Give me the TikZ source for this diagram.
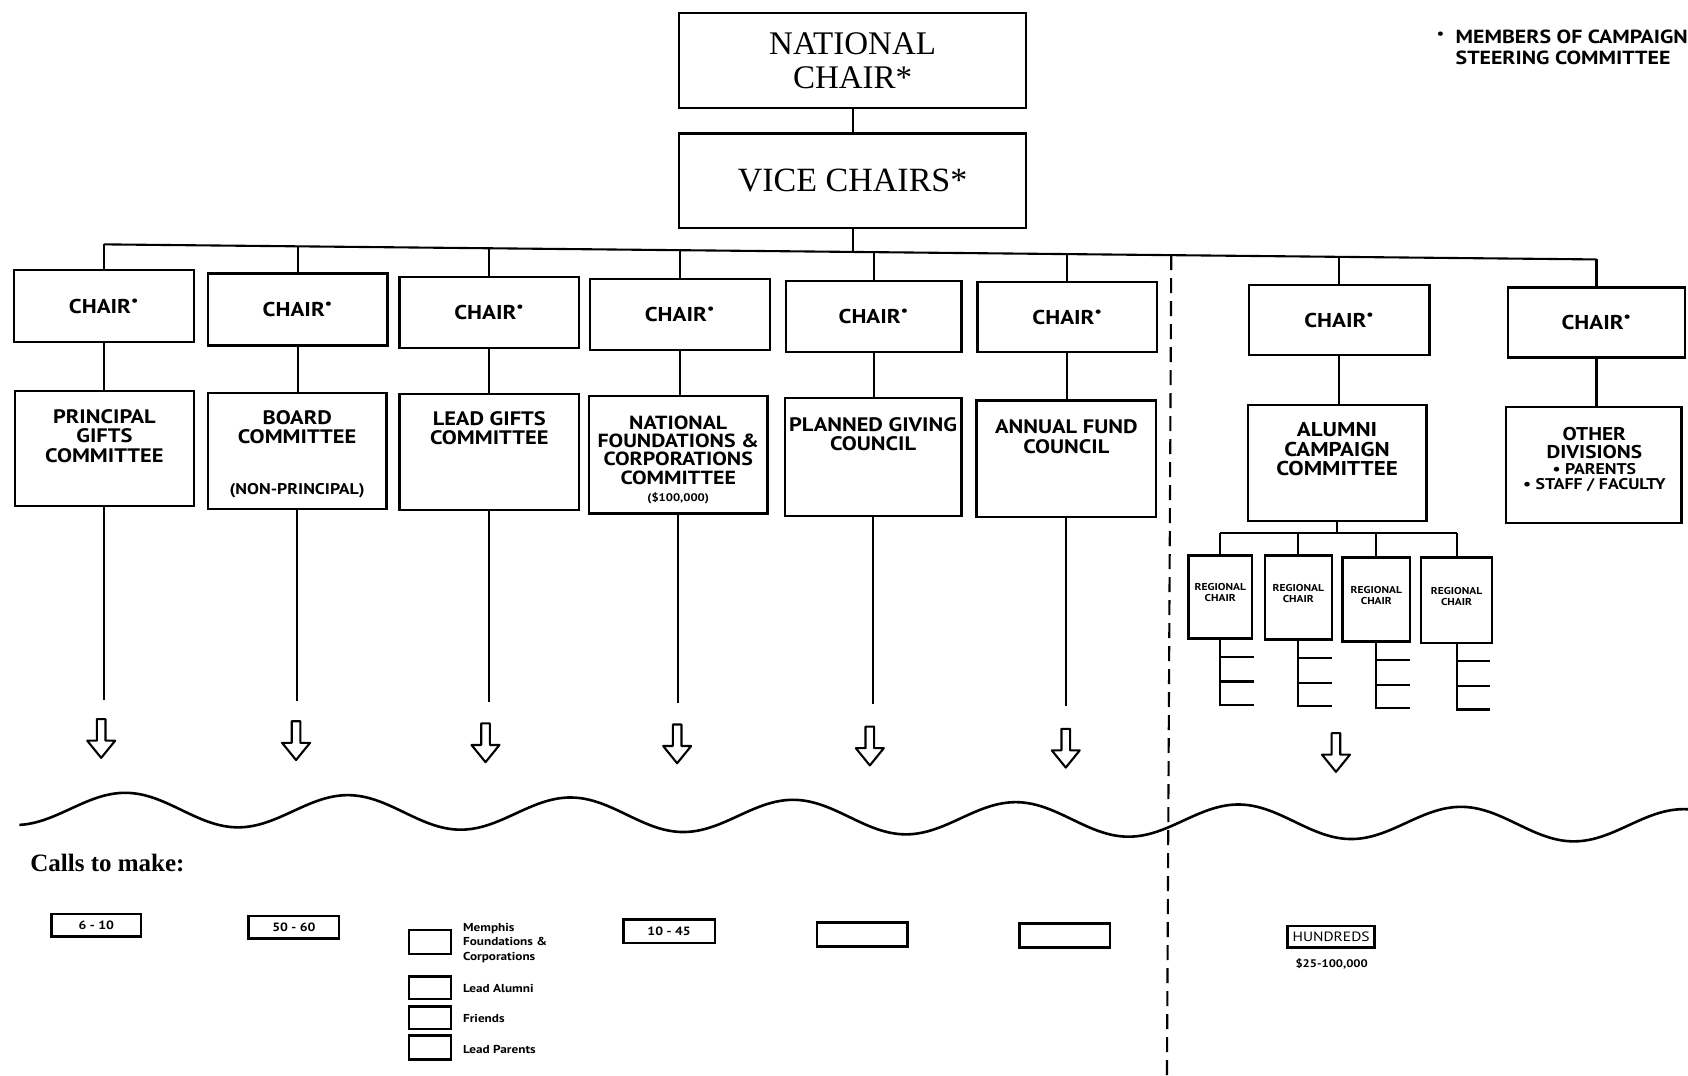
\documentclass[tikz,border=0pt]{standalone}
\usepackage{fontspec}
\setmainfont{Liberation Serif}
\newfontfamily\opt[FakeStretch=1.15]{PT Sans}
\usetikzlibrary{fit}
\newcommand{\fs}[2]{\fontsize{#1}{#2}\selectfont}
\newcommand{\openarr}[1]{\draw[arr, shift={(#1)}] (-4,0) -- (-4,20) -- (-13,20) -- (0,36) -- (13,20) -- (4,20) -- (4,0) -- cycle;}
\begin{document}
\begin{tikzpicture}[x=1.0765pt, y=-1.0765pt,
  bx/.style={draw, line width=2.3pt, inner sep=0pt},
  sbx/.style={draw, line width=2.6pt, inner sep=0pt},
  ln/.style={line width=2.1pt},
  arr/.style={line width=2.1pt, line join=round},
  txt/.style={inner sep=0pt, align=center},
  chairt/.style={txt, font=\opt\bfseries\fs{20}{20}},
  lab/.style={txt, font=\opt\bfseries\fs{19.5}{19.4}},
  small/.style={txt, font=\opt\bfseries\fs{12}{12}},
  leg/.style={inner sep=0pt, align=left, anchor=west, font=\opt\bfseries\fs{11.5}{14.5}},
]
\useasboundingbox (0,0) rectangle (1568,999);

% top
\node[bx, fit={(631,12) (953,100)}] (nat) {};
\node[txt, font=\fs{33}{34}] (natt) at (nat.center) {NATIONAL\\CHAIR*};
\node[bx, fit={(631,124) (953,212)}] (vice) {};
\node[txt, font=\fs{34}{34}] (vicet) at (vice.center) {VICE CHAIRS*};
\draw[ln] (nat.south) -- (vice.north);

% bus
\coordinate (b1) at (96.5,227);
\coordinate (b2) at (276.5,228.8);
\coordinate (b3) at (454.5,230.6);
\coordinate (b4) at (631.5,232.4);
\coordinate (b5) at (811.5,234.2);
\coordinate (b6) at (991.5,236);
\coordinate (b7) at (1244,238.6);
\coordinate (b8) at (1483,241);
\coordinate (bv) at (792,234);
\coordinate (dtop) at (1088,237);
\coordinate (dbot) at (1084,999);
\draw[ln] (b1) -- (b8);
\draw[ln] (vice.south) -- (bv);

% chairs
\node[bx, fit={(13,251) (180,318)}] (c1) {};
\node[bx, fit={(193,254) (360,321)}] (c2) {};
\node[bx, fit={(371,257) (538,323)}] (c3) {};
\node[bx, fit={(548,259) (715,325)}] (c4) {};
\node[bx, fit={(730,261) (893,327)}] (c5) {};
\node[bx, fit={(908,262) (1075,327)}] (c6) {};
\node[bx, fit={(1160,265) (1328,330)}] (c7) {};
\node[bx, fit={(1401,267) (1565,332)}] (c8) {};
\foreach \i in {1,...,8} {
  \node[chairt] (ct\i) at (c\i.center) {CHAIR\textsuperscript{•}};
  \draw[ln] (b\i) -- (b\i |- c\i.north);
}

% committees
\node[bx, fit={(14,363) (180,470)}] (k1) {};
\node[bx, fit={(193,365) (359,473)}] (k2) {};
\node[bx, fit={(371,366) (538,474)}] (k3) {};
\node[bx, fit={(547,368) (713,477)}] (k4) {};
\node[bx, fit={(729,370) (893,479)}] (k5) {};
\node[bx, fit={(907,372) (1074,480)}] (k6) {};
\node[bx, fit={(1159,376) (1325,484)}] (k7) {};
\node[bx, fit={(1399,378) (1562,486)}] (k8) {};
\foreach \i in {1,...,8} { \draw[ln] (c\i.south) -- (c\i.south |- k\i.north); }

\node[lab] (t1) at (97,405) {PRINCIPAL\\GIFTS\\COMMITTEE};
\node[lab] (t2) at (276,397) {BOARD\\COMMITTEE};
\node[lab, font=\opt\bfseries\fs{15.5}{15}] (t2b) at (276,456) {(NON-PRINCIPAL)};
\node[lab] (t3) at (454.5,398) {LEAD GIFTS\\COMMITTEE};
\node[lab, font=\opt\bfseries\fs{19}{18.3}] (t4) at (630,418) {NATIONAL\\FOUNDATIONS \&\\CORPORATIONS\\COMMITTEE};
\node[lab, font=\opt\bfseries\fs{11}{11}] (t4b) at (630,463) {(\$100,000)};
\node[lab] (t5) at (811,403.5) {PLANNED GIVING\\COUNCIL};
\node[lab] (t6) at (990.5,405.5) {ANNUAL FUND\\COUNCIL};
\node[lab, font=\opt\bfseries\fs{20}{19.4}] (t7) at (1242,417.5) {ALUMNI\\CAMPAIGN\\COMMITTEE};
\node[lab, font=\opt\bfseries\fs{18.5}{18.3}] (t8) at (1481,411.5) {OTHER\\DIVISIONS};
\node[lab, font=\opt\bfseries\fs{15.5}{15}] (t8b) at (1481,444) {• PARENTS\\• STAFF / FACULTY};

% lines to arrows
\coordinate (e1) at (97,650);
\coordinate (e2) at (276,651);
\coordinate (e3) at (454,652);
\coordinate (e4) at (630,653);
\coordinate (e5) at (808,654);
\coordinate (e6) at (990,656);
\foreach \i in {1,...,6} { \draw[ln] (k\i.south) -- (k\i.south |- e\i); }

\coordinate (a1) at (94,668);
\coordinate (a2) at (275,670);
\coordinate (a3) at (451,672);
\coordinate (a4) at (629,673);
\coordinate (a5) at (808,675);
\coordinate (a6) at (990,677);
\coordinate (a7) at (1241,681);
\foreach \i in {1,...,7} { \openarr{a\i} }

% regional
\coordinate (rbL) at (1133.5,495);
\coordinate (rbR) at (1353,495);
\draw[ln] (k7.south) -- (k7.south |- rbL);
\draw[ln] (rbL) -- (rbR);
\node[bx, fit={(1104,516) (1163,593)}] (r1) {};
\node[bx, fit={(1175,516) (1237,594)}] (r2) {};
\node[bx, fit={(1247,518) (1310,596)}] (r3) {};
\node[bx, fit={(1320,518) (1386,597)}] (r4) {};
\foreach \i in {1,...,4} {
  \node[txt, font=\opt\bfseries\fs{10}{11}] (rt\i) at ([yshift=4pt]r\i.center) {REGIONAL\\CHAIR};
  \draw[ln] (r\i.north |- rbL) -- (r\i.north);
  \draw[ln] (r\i.south) -- ++(0,61) -- ++(31,0);
  \draw[ln] (r\i.south) ++(0,16) -- ++(31,0);
  \draw[ln] (r\i.south) ++(0,39) -- ++(31,0);
}

% separator
\draw[line width=2.1pt, dash pattern=on 15pt off 8pt] (dtop) -- (dbot);

% wave
\draw[line width=2.6pt] plot[domain=18:1568, samples=400, smooth] (\x, {752.5+0.0105*(\x-170)-15.5*cos(1.74081*(\x-117))});

% calls
\node[anchor=base west, inner sep=0pt, font=\bfseries\fs{25}{26}] (calls) at (28,810) {Calls to make:};
\node[sbx, fit={(48,849) (131,870)}] (n1) {};
\node[sbx, fit={(231,851) (315,872)}] (n2) {};
\node[sbx, fit={(579,854) (664,876)}] (n4) {};
\node[sbx, fit={(759,857) (843,879)}] (n5) {};
\node[sbx, fit={(947,858) (1031,880)}] (n6) {};
\node[sbx, fit={(1196,860) (1277,880)}] (n7) {};
\node[small] (n1t) at (n1.center) {6 - 10};
\node[small] (n2t) at (n2.center) {50 - 60};
\node[small] (n4t) at (n4.center) {10 - 45};
\node[txt, font=\opt\fs{13.5}{13}] (n7t) at (n7.center) {HUNDREDS};
\node[small, font=\opt\bfseries\fs{11}{12}] (n7b) at (1237,895) {\$25-100,000};

\node[sbx, fit={(380,864) (419,886)}] (l1) {};
\node[sbx, fit={(380,907) (419,928)}] (l2) {};
\node[sbx, fit={(380,935) (419,956)}] (l3) {};
\node[sbx, fit={(380,962) (419,984)}] (l4) {};
\node[leg] (lt1) at (430,876) {Memphis\\Foundations \&\\Corporations};
\node[leg] (lt2) at (430,918) {Lead Alumni};
\node[leg] (lt3) at (430,946) {Friends};
\node[leg] (lt4) at (430,975) {Lead Parents};

% steering legend
\node[inner sep=0pt, font=\opt\bfseries\fs{14}{13}] (dot) at (1338,33) {•};
\node[inner sep=0pt, anchor=north west, align=left, font=\opt\bfseries\fs{19}{20.5}] (members) at (1352,28) {MEMBERS OF CAMPAIGN\\STEERING COMMITTEE};
\end{tikzpicture}
\end{document}
